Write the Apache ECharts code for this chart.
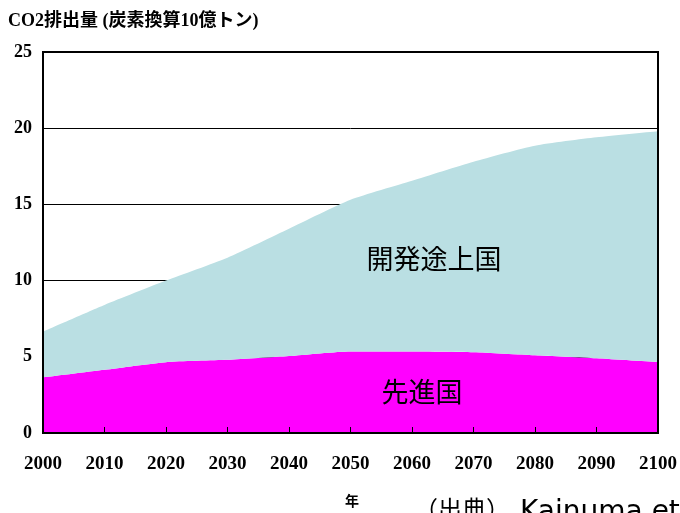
<!DOCTYPE html>
<html>
<head>
<meta charset="utf-8">
<script src="https://cdn.jsdelivr.net/npm/echarts@6/dist/echarts.min.js"></script>
<style>
  html, body { margin: 0; padding: 0; background: #fff; }
  #main { width: 680px; height: 513px; }
</style>
</head>
<body>
<div id="main"></div>
<script>
// 年
const years = ['2000', '2010', '2020', '2030', '2040', '2050', '2060', '2070', '2080', '2090', '2100'];
// 先進国 (炭素換算10億トン)
const developed = [3.65, 4.15, 4.65, 4.8, 5.05, 5.35, 5.35, 5.3, 5.1, 4.9, 4.65];
// 開発途上国 (先進国の上に積み上げ)
const developing = [3.0, 4.25, 5.35, 6.7, 8.35, 9.95, 11.2, 12.5, 13.75, 14.5, 15.15];
const yTicks = { min: 0, max: 25, interval: 5 };

const chart = echarts.init(document.getElementById('main'));

const serifFont = '"Liberation Serif", "Times New Roman", "Noto Sans CJK JP", serif';
const cjkFont = '"Noto Sans CJK JP", sans-serif';

const option = {
  animation: false,
  backgroundColor: '#fff',
  title: {
    text: 'CO2排出量 (炭素換算10億トン)',
    left: 3,
    top: 7,
    textStyle: {
      fontFamily: serifFont,
      fontWeight: 'bold',
      fontSize: 18,
      color: '#000'
    }
  },
  grid: {
    show: true,
    left: 43,
    right: 19,
    top: 52,
    bottom: 80,
    borderColor: '#000',
    borderWidth: 2,
    backgroundColor: 'transparent',
    z: 5
  },
  xAxis: {
    type: 'category',
    boundaryGap: false,
    data: years,
    z: 5,
    axisLine: { lineStyle: { color: '#000', width: 2 } },
    axisTick: { inside: true, length: 6, lineStyle: { color: '#000', width: 1 } },
    axisLabel: {
      margin: 22,
      color: '#000',
      fontFamily: serifFont,
      fontWeight: 'bold',
      fontSize: 19
    },
    splitLine: { show: false }
  },
  yAxis: {
    type: 'value',
    min: yTicks.min,
    max: yTicks.max,
    interval: yTicks.interval,
    axisLine: { show: true, lineStyle: { color: '#000', width: 2 } },
    axisTick: { show: false },
    axisLabel: {
      margin: 11,
      color: '#000',
      fontFamily: serifFont,
      fontWeight: 'bold',
      fontSize: 18
    },
    splitLine: { show: true, lineStyle: { color: '#000', width: 1 } }
  },
  series: [
    {
      name: '先進国',
      type: 'line',
      stack: 'total',
      data: developed,
      smooth: 0.2,
      symbol: 'none',
      lineStyle: { width: 0 },
      areaStyle: { color: '#FF00FF', opacity: 1 }
    },
    {
      name: '開発途上国',
      type: 'line',
      stack: 'total',
      data: developing,
      smooth: 0.2,
      symbol: 'none',
      lineStyle: { width: 0 },
      areaStyle: { color: '#BADFE3', opacity: 1 }
    }
  ],
  graphic: [
    {
      type: 'text',
      z: 10,
      style: {
        text: '開発途上国',
        x: 434, y: 259,
        textAlign: 'center',
        textVerticalAlign: 'middle',
        font: '27px ' + cjkFont,
        fill: '#000'
      }
    },
    {
      type: 'text',
      z: 10,
      style: {
        text: '先進国',
        x: 422, y: 392,
        textAlign: 'center',
        textVerticalAlign: 'middle',
        font: '27px ' + cjkFont,
        fill: '#000'
      }
    },
    {
      type: 'text',
      style: {
        text: '年',
        x: 352, y: 501,
        textAlign: 'center',
        textVerticalAlign: 'middle',
        font: 'bold 14px ' + cjkFont,
        fill: '#000'
      }
    },
    {
      type: 'text',
      style: {
        text: '（出典）',
        x: 414, y: 509,
        textAlign: 'left',
        textVerticalAlign: 'middle',
        font: '24px ' + cjkFont,
        fill: '#000'
      }
    },
    {
      type: 'text',
      style: {
        text: 'Kainuma et',
        x: 520, y: 513,
        textAlign: 'left',
        textVerticalAlign: 'middle',
        font: '28px "DejaVu Sans", sans-serif',
        fill: '#000'
      }
    }
  ]
};

chart.setOption(option);
</script>
</body>
</html>
